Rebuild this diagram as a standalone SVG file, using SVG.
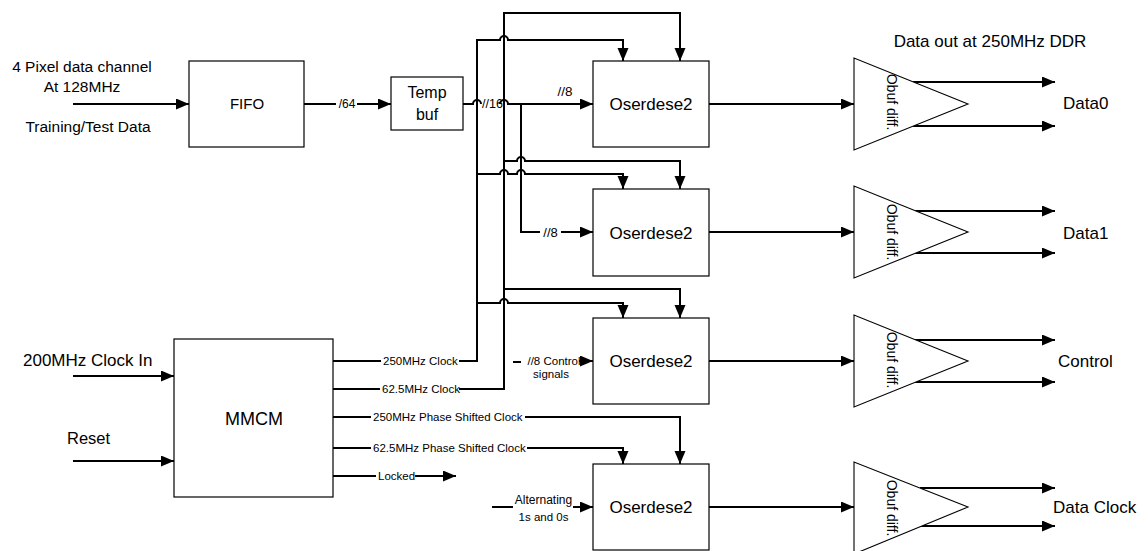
<svg xmlns="http://www.w3.org/2000/svg" width="1148" height="551" viewBox="0 0 1148 551">
<defs>
<style>
text{font-family:"Liberation Sans",Arial,sans-serif;fill:#000}
.box{fill:#fff;stroke:#000;stroke-width:1.2}
.tri{fill:#fff;stroke:#000;stroke-width:1.1}
.w{fill:none;stroke:#000;stroke-width:2}
.a{marker-end:url(#ah)}
.lbl{font-size:11.5px}
.mid{text-anchor:middle}
</style>
<marker id="ah" markerUnits="userSpaceOnUse" markerWidth="14" markerHeight="12" refX="13" refY="5.5" orient="auto"><path d="M0,0 L13,5.5 L0,11 z" fill="#000"/></marker>
</defs>
<rect x="0" y="0" width="1148" height="551" fill="#fff"/>

<g id="connectors">
<!-- inputs -->
<path class="w a" d="M73,104 H189"/>
<path class="w a" d="M73,376 H174"/>
<path class="w a" d="M73,461 H174"/>
<!-- FIFO to temp buf -->
<path class="w" d="M304,104 H336"/>
<text x="347" y="108" style="font-size:12px" class="mid">/64</text>
<path class="w a" d="M357,104 H391"/>
<!-- data to oserdes 1 -->
<path class="w" d="M463,104 H473 a4,4 0 0 1 8,0"/>
<text x="492.5" y="108" style="font-size:12.5px" class="mid">//16</text>
<path class="w a" d="M500,104 a4,4 0 0 1 8,0 H593"/>
<text x="565" y="96" style="font-size:13.5px" class="mid">//8</text>
<!-- data branch to oserdes 2 -->
<path class="w" d="M521,104 V232 H540"/>
<text x="550.5" y="237" style="font-size:13px" class="mid">//8</text>
<path class="w a" d="M561,232 H593"/>
<!-- 250MHz clock bus -->
<path class="w" d="M333,361 H381"/>
<text x="383" y="365" class="lbl">250MHz Clock</text>
<path class="w a" d="M459,361 H477 V40 H500 a4,4 0 0 1 8,0 H623 V61"/>
<path class="w a" d="M477,174 H500 a4,4 0 0 1 8,0 H517 a4,4 0 0 1 8,0 H623 V189"/>
<path class="w a" d="M477,303 H500 a4,4 0 0 1 8,0 H623 V318"/>
<!-- 62.5MHz clock bus -->
<path class="w" d="M333,389 H380"/>
<text x="382" y="393" class="lbl">62.5MHz Clock</text>
<path class="w a" d="M459,389 H504 V13 H680 V61"/>
<path class="w a" d="M504,161 H517 a4,4 0 0 1 8,0 H680 V189"/>
<path class="w a" d="M504,289 H680 V318"/>
<!-- control -->
<path class="w" d="M513,362 H521"/>
<text x="554" y="365" class="lbl mid">//8 Control</text>
<text x="551" y="378" class="lbl mid">signals</text>
<path class="w a" d="M579,361 H593"/>
<!-- phase shifted clocks -->
<path class="w" d="M333,417 H371"/>
<text x="373" y="421" class="lbl">250MHz Phase Shifted Clock</text>
<path class="w a" d="M525,417 H680 V464"/>
<path class="w" d="M333,448 H371"/>
<text x="373" y="452" class="lbl">62.5MHz Phase Shifted Clock</text>
<path class="w a" d="M527,448 H623 V464"/>
<!-- locked -->
<path class="w" d="M333,476 H376"/>
<text x="378" y="480" class="lbl">Locked</text>
<path class="w a" d="M415,476 H456"/>
<!-- alternating -->
<path class="w" d="M492,507 H513"/>
<text x="543.5" y="504" style="font-size:12px" class="mid">Alternating</text>
<text x="543.5" y="521" style="font-size:11.5px" class="mid">1s and 0s</text>
<path class="w a" d="M573,507 H593"/>
<!-- oserdes to obuf -->
<path class="w a" d="M709,104 H854"/>
<path class="w a" d="M709,232 H854"/>
<path class="w a" d="M709,361 H854"/>
<path class="w a" d="M709,507 H854"/>
<!-- obuf outputs -->
<path class="w a" d="M913,82 H1055"/>
<path class="w a" d="M913,126 H1055"/>
<path class="w a" d="M915,211 H1055"/>
<path class="w a" d="M915,253 H1055"/>
<path class="w a" d="M915,340 H1055"/>
<path class="w a" d="M915,382 H1055"/>
<path class="w a" d="M920,488 H1055"/>
<path class="w a" d="M920,526 H1055"/>
</g>

<g id="inputs-text">
<text x="82" y="72" style="font-size:15.5px" class="mid">4 Pixel data channel</text>
<text x="82" y="92" style="font-size:15.5px" class="mid">At 128MHz</text>
<text x="88" y="132" style="font-size:15.5px" class="mid">Training/Test Data</text>
<text x="23" y="366" style="font-size:17px">200MHz Clock In</text>
<text x="67" y="444" style="font-size:16.5px">Reset</text>
</g>

<g id="fifo">
<rect class="box" x="189" y="61" width="115" height="86"/>
<text x="247" y="109" style="font-size:15px" class="mid">FIFO</text>
</g>
<g id="tempbuf">
<rect class="box" x="391" y="77" width="72" height="53"/>
<text x="427" y="98" style="font-size:16px" class="mid">Temp</text>
<text x="427" y="120" style="font-size:16px" class="mid">buf</text>
</g>
<g id="mmcm">
<rect class="box" x="174" y="339" width="159" height="158"/>
<text x="254" y="425" style="font-size:18px" class="mid">MMCM</text>
</g>
<g id="oserdes1">
<rect class="box" x="593" y="61" width="116" height="86"/>
<text x="651" y="110" style="font-size:17px" class="mid">Oserdese2</text>
</g>
<g id="oserdes2">
<rect class="box" x="593" y="189" width="116" height="87"/>
<text x="651" y="239" style="font-size:17px" class="mid">Oserdese2</text>
</g>
<g id="oserdes3">
<rect class="box" x="593" y="318" width="116" height="86"/>
<text x="651" y="367" style="font-size:17px" class="mid">Oserdese2</text>
</g>
<g id="oserdes4">
<rect class="box" x="593" y="464" width="116" height="86"/>
<text x="651" y="513" style="font-size:17px" class="mid">Oserdese2</text>
</g>

<g id="obuf0">
<polygon class="tri" points="854,58 854,150 968,104"/>
<text transform="translate(887,102) rotate(90)" style="font-size:14px" class="mid">Obuf diff.</text>
</g>
<g id="obuf1">
<polygon class="tri" points="854,186 854,278 968,232"/>
<text transform="translate(887,232) rotate(90)" style="font-size:14px" class="mid">Obuf diff.</text>
</g>
<g id="obuf2">
<polygon class="tri" points="854,315 854,407 968,361"/>
<text transform="translate(887,360) rotate(90)" style="font-size:14px" class="mid">Obuf diff.</text>
</g>
<g id="obuf3">
<polygon class="tri" points="854,462 854,554 968,507"/>
<text transform="translate(887,508) rotate(90)" style="font-size:14px" class="mid">Obuf diff.</text>
</g>

<g id="outputs-text">
<text x="990" y="47" style="font-size:17px" class="mid">Data out at 250MHz DDR</text>
<text x="1063" y="109" style="font-size:17px">Data0</text>
<text x="1063" y="239" style="font-size:17px">Data1</text>
<text x="1058" y="367" style="font-size:17px">Control</text>
<text x="1053" y="513" style="font-size:17px">Data Clock</text>
</g>
</svg>
